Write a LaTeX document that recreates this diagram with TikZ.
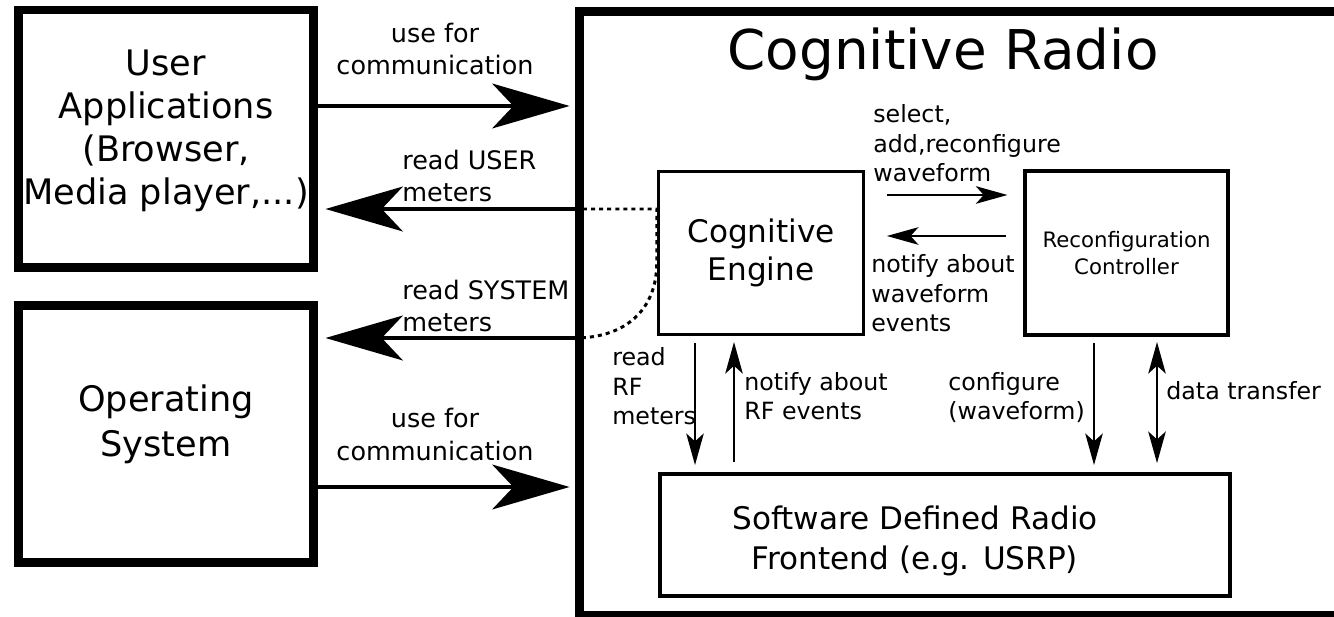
\documentclass[tikz,border=0pt]{standalone}
\usepackage{fontspec}
\setmainfont{DejaVu Sans}
\usetikzlibrary{arrows.meta}

\begin{document}
\begin{tikzpicture}[x=0.02cm, y=-0.02cm,
        bigbox/.style={draw, line width=5.1pt, inner sep=0pt},
        smallbox/.style={draw, line width=2pt, inner sep=0pt, align=center},
        bigarrow/.style={line width=2.3pt, -{Stealth[length=44pt, width=25.5pt, inset=12pt]}},
        smallarrow/.style={line width=1pt, >={Stealth[length=18pt, width=10pt, inset=4.5pt]}, ->},
        dotline/.style={line width=1.7pt, dash pattern=on 2.3pt off 2.3pt},
        outertext/.style={font=\fontsize{14.5}{18.7}\selectfont, inner sep=0pt, anchor=base west, align=left},
        innertext/.style={font=\fontsize{13.5}{17}\selectfont, inner sep=0pt, anchor=base west, align=left}]
    \clip (0,0) rectangle (1334,617);
    % boxes
    \node[bigbox, minimum width=5.91cm, minimum height=5.15cm] (ua) at (166.25,138.75) {};
    \node[bigbox, minimum width=5.91cm, minimum height=5.16cm] (os) at (166.25,434) {};
    \node[bigbox, minimum width=15.31cm, minimum height=12.1cm] (cr) at (962,313.5) {};
    \node[smallbox, minimum width=4.1cm, minimum height=3.26cm, font=\fontsize{17.7}{21.5}\selectfont] (engine) at (761,253) {Cognitive\\Engine};
    \node[smallbox, minimum width=4.06cm, minimum height=3.28cm, font=\fontsize{12.1}{15.3}\selectfont] (rc) at (1126.5,253) {Reconfiguration\\Controller};
    \node[smallbox, minimum width=11.4cm, minimum height=2.44cm] (sdr) at (945,535) {};
    % box texts (base = last line)
    \node[font=\fontsize{20}{24.6}\selectfont, align=center, anchor=base, inner sep=0pt] (uatext) at (166,205) {User\\Applications\\(Browser,\\Media player,...)};
    \node[font=\fontsize{20}{26}\selectfont, align=center, anchor=base, inner sep=0pt] (ostext) at (166,457) {Operating\\System};
    \node[font=\fontsize{17.7}{22.5}\selectfont, align=center, anchor=base, inner sep=0pt] (sdrtext) at (915,569) {Software Defined Radio\\Frontend (e.g. USRP)};
    \node[font=\fontsize{31.2}{37}\selectfont, anchor=base, inner sep=0pt] (title) at (943,70) {Cognitive Radio};
    % outer arrows
    \draw[bigarrow, shorten >=3pt] (ua.east |- 0,106) -- (cr.west |- 0,106);
    \draw[bigarrow, shorten >=4pt] (cr.west |- 0,209) -- (ua.east |- 0,209);
    \draw[bigarrow, shorten >=4pt] (cr.west |- 0,338) -- (os.east |- 0,338);
    \draw[bigarrow, shorten >=3pt] (os.east |- 0,487) -- (cr.west |- 0,487);
    \draw[dotline] (cr.west |- 0,209) -- (engine.west |- 0,209) -- (engine.west |- 0,263)
        .. controls (engine.west |- 0,310) and (625,338) .. (cr.west |- 0,338);
    % inner arrows
    \draw[smallarrow, shorten <=12.3pt, shorten >=9pt] (engine.east |- 0,195) -- (rc.west |- 0,195);
    \draw[smallarrow, shorten <=10pt, shorten >=12.3pt] (rc.west |- 0,236) -- (engine.east |- 0,236);
    \draw[smallarrow, shorten <=3.8pt, shorten >=4.1pt] (engine.south -| 695,0) -- (sdr.north -| 695,0);
    \draw[smallarrow, shorten <=5.7pt, shorten >=3.3pt] (sdr.north -| 734,0) -- (engine.south -| 734,0);
    \draw[smallarrow, shorten <=3.5pt, shorten >=4.1pt] (rc.south -| 1094,0) -- (sdr.north -| 1094,0);
    \draw[smallarrow, <->, shorten <=3pt, shorten >=5.2pt] (rc.south -| 1157,0) -- (sdr.north -| 1157,0);
    % labels (base = last line)
    \node[outertext, anchor=base, align=center] (usecomm1) at (435,75) {use for\\communication};
    \node[outertext] (readuser) at (402,202) {read USER\\meters};
    \node[outertext] (readsys) at (402,332) {read SYSTEM\\meters};
    \node[outertext, anchor=base, align=center] (usecomm2) at (435,460) {use for\\communication};
    \node[innertext] (selectwf) at (873,182) {select,\\add,reconfigure\\waveform};
    \node[innertext] (notifywf) at (871,332) {notify about\\waveform\\events};
    \node[innertext] (readrf) at (612,425) {read\\RF\\meters};
    \node[innertext] (notifyrf) at (744,420) {notify about\\RF events};
    \node[innertext] (configwf) at (948,420) {configure\\(waveform)};
    \node[innertext] (datatr) at (1166,400) {data transfer};
\end{tikzpicture}
\end{document}
